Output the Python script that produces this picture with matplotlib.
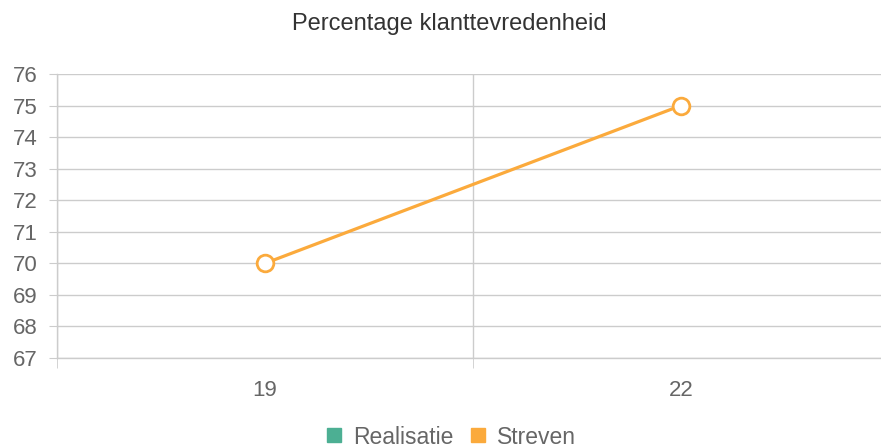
import matplotlib
matplotlib.use("Agg")
import matplotlib.pyplot as plt
from matplotlib.lines import Line2D
import numpy as np

plt.rcParams['font.family'] = ['Liberation Sans', 'DejaVu Sans']

categories = ["19", "22"]
realisatie = [np.nan, np.nan]
streven = [70, 75]
yticks = [67, 68, 69, 70, 71, 72, 73, 74, 75, 76]

orange = "#FBAA3C"
teal = "#4CAF93"
grid_c = "#CCCCCC"
txt_c = "#666666"

fig = plt.figure(figsize=(8.81, 4.47), dpi=100)
ax = fig.add_axes([57/881, 89/447, (889-57)/881, (358-74)/447])

x = np.arange(len(categories))
ax.plot(x, realisatie, color=teal, lw=2)
ax.plot(x, streven, color=orange, lw=2.3, marker='o', markersize=12,
        markerfacecolor='white', markeredgecolor=orange, markeredgewidth=2,
        zorder=5, clip_on=False)

ax.set_xlim(-0.5, len(categories) - 0.5)
ax.set_ylim(yticks[0], yticks[-1])
ax.set_yticks(yticks)
ax.set_yticklabels([str(v) for v in yticks])
ax.set_xticks(x)
ax.set_xticklabels(categories)
ax.set_xticks(np.arange(-0.5, len(categories)), minor=True)

for s in ['top', 'right']:
    ax.spines[s].set_visible(False)
ax.spines['left'].set_color(grid_c)
ax.spines['bottom'].set_color(grid_c)
ax.spines['left'].set_linewidth(1)
ax.spines['bottom'].set_linewidth(1)

ax.grid(axis='y', which='major', color=grid_c, lw=1)
ax.grid(axis='x', which='minor', color=grid_c, lw=1)
ax.set_axisbelow(True)

ax.tick_params(axis='y', which='major', length=6, color=grid_c, labelcolor=txt_c,
               labelsize=16, pad=8)
ax.tick_params(axis='x', which='major', length=0, labelcolor=txt_c, labelsize=16, pad=16)
ax.tick_params(axis='x', which='minor', length=7, color=grid_c)

fig.text(0.51, 1 - 24/447, "Percentage klanttevredenheid", ha='center', va='center',
         fontsize=17, color="#333333")

handles = [
    Line2D([], [], linestyle='none', marker='s', markersize=9.5, color=teal),
    Line2D([], [], linestyle='none', marker='s', markersize=9.5, color=orange),
]
fig.legend(handles, ["Realisatie", "Streven"], loc='center', bbox_to_anchor=(0.51, 1 - 437/447),
           ncol=2, frameon=False, fontsize=16.5, labelcolor=txt_c, handletextpad=0.3,
           columnspacing=0.6, handlelength=1.0)

fig.savefig("out.png", dpi=100)
